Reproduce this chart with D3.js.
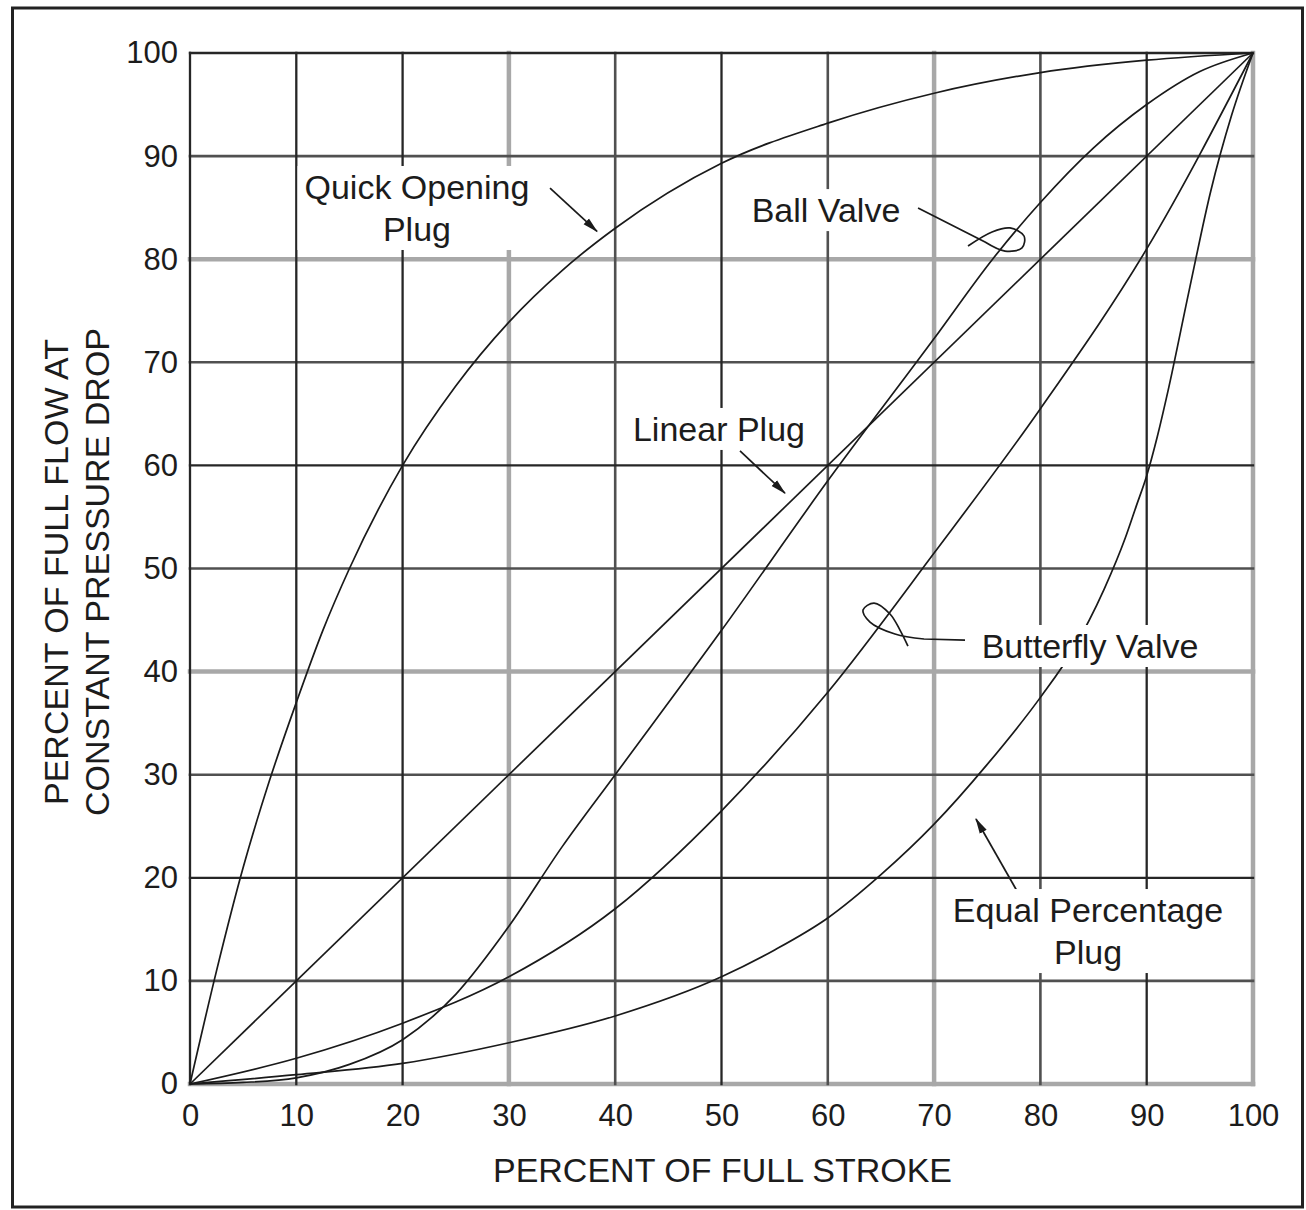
<!DOCTYPE html>
<html><head><meta charset="utf-8">
<script src="https://cdn.jsdelivr.net/npm/d3@7"></script>
<style>body{margin:0;background:#fff}svg{display:block}</style>
</head><body>
<svg id="chart" width="1306" height="1210"></svg>
<script>
// ---------- data ----------
const xTicks = [0,10,20,30,40,50,60,70,80,90,100];
const yTicks = [0,10,20,30,40,50,60,70,80,90,100];
const xTickLabels = ["0","10","20","30","40","50","60","70","80","90","100"];
const yTickLabels = ["0","10","20","30","40","50","60","70","80","90","100"];
const xTitle = "PERCENT OF FULL STROKE";
const yTitleLines = ["PERCENT OF FULL FLOW AT","CONSTANT PRESSURE DROP"];

const quickOpening = [[0,0],[2.5,11],[5,21],[7.5,29.5],[10,37],[12.5,44],[15,50],[20,60],[25,67.7],[30,73.9],[35,78.9],[40,83],[50,89.3],[60,93.2],[70,96.1],[80,98.1],[90,99.3],[100,100]];
const linearPlug = [[0,0],[100,100]];
const ballValve = [[0,0],[5,0.15],[10,0.6],[15,1.9],[20,4.3],[25,8.7],[30,15.3],[35,23],[40,30],[50,44],[60,58.5],[70,72.3],[75.5,80],[80,85.5],[85,90.8],[90,95],[95,98.2],[100,100]];
const butterflyValve = [[0,0],[10,2.5],[20,5.9],[30,10.4],[40,17],[50,26.5],[60,38],[70,51.5],[80,65.5],[90,81],[100,100]];
const equalPercentage = [[0,0],[10,0.9],[20,2.0],[30,4.0],[40,6.6],[50,10.4],[55,13],[60,16.1],[65,20.3],[70,25.2],[75,31],[80,37.5],[83,42],[86,48],[88,53],[89,56],[90,59],[91,62.8],[92,67.2],[94,77],[96,86.5],[98,94],[100,100]];
const seriesList = [quickOpening, linearPlug, ballValve, butterflyValve, equalPercentage];

// annotation text (data coordinates of first-line baseline centre)
const labelTexts = [["Quick Opening","Plug"],["Ball Valve"],["Linear Plug"],["Butterfly Valve"],["Equal Percentage","Plug"]];
const labelAnchors = [[21.35,85.84],[59.83,83.6],[49.76,62.37],[84.67,41.32],[84.48,15.71]];
const arrowLines = [[[33.87,86.9],[38.29,82.7]],[[51.74,61.4],[55.97,57.3]],[[77.8,18.72],[73.94,25.7]]];
const ballLeader = [[68.49,84.97],[74.79,81.67],[76.67,80.79],[78.27,81.09],[78.46,82.25],[77.14,83.03],[75.45,82.64],[73.19,81.28]];
const butterflyLeader = [[72.91,43.06],[69.05,43.16],[66.32,43.65],[63.97,44.81],[63.31,45.97],[64.35,46.65],[65.85,45.59],[66.79,44.03],[67.54,42.48]];

// ---------- styles ----------
const gridStyleX = ["dark","dark","dark","light","mid","dark","mid","light","mid","dark","light"];
const gridStyleY = ["light","mid","dark","mid","light","mid","dark","mid","light","mid","dark"];
const gridLook = {light:{c:"#a8a8a8",w:4.5}, mid:{c:"#505050",w:2.6}, dark:{c:"#262626",w:2.3}};
const FONT = "'Liberation Sans', Arial, Helvetica, sans-serif";
const INK = "#1c1c1c";

// ---------- chart ----------
const svg = d3.select("#chart");
const x = d3.scaleLinear().domain([0,100]).range([190,1253]);
const y = d3.scaleLinear().domain([0,100]).range([1084,53]);

svg.append("rect").attr("x",12.5).attr("y",8).attr("width",1290).attr("height",1199)
  .attr("fill","#fff").attr("stroke","#222").attr("stroke-width",3);

const grid = svg.append("g");
["light","mid","dark"].forEach(kind => {
  xTicks.forEach((t,i) => {
    if (gridStyleX[i] !== kind) return;
    grid.append("line").attr("x1",x(t)).attr("x2",x(t)).attr("y1",y(0)).attr("y2",y(100))
      .attr("stroke",gridLook[kind].c).attr("stroke-width",gridLook[kind].w).attr("stroke-linecap","square");
  });
  yTicks.forEach((t,i) => {
    if (gridStyleY[i] !== kind) return;
    grid.append("line").attr("y1",y(t)).attr("y2",y(t)).attr("x1",x(0)).attr("x2",x(100))
      .attr("stroke",gridLook[kind].c).attr("stroke-width",gridLook[kind].w).attr("stroke-linecap","square");
  });
});

// axes (labels only)
const yAxis = svg.append("g").attr("transform",`translate(${x(0)},0)`)
  .call(d3.axisLeft(y).tickValues(yTicks).tickFormat((d,i)=>yTickLabels[i]).tickSize(0).tickPadding(12));
const xAxis = svg.append("g").attr("transform",`translate(0,${y(0)})`)
  .call(d3.axisBottom(x).tickValues(xTicks).tickFormat((d,i)=>xTickLabels[i]).tickSize(0).tickPadding(20));
[xAxis,yAxis].forEach(g => {
  g.select(".domain").remove();
  g.selectAll("text").attr("font-family",FONT).attr("font-size",31).attr("fill",INK);
});

svg.append("text").attr("x",(x(0)+x(100))/2 + 1).attr("y",1182).attr("text-anchor","middle")
  .attr("font-family",FONT).attr("font-size",34).attr("fill",INK).text(xTitle);
yTitleLines.forEach((t,i) => {
  svg.append("text").attr("transform",`translate(${68 + i*41},572) rotate(-90)`).attr("text-anchor","middle")
    .attr("font-family",FONT).attr("font-size",34).attr("fill",INK).text(t);
});

// curves
const line = d3.line().x(d=>x(d[0])).y(d=>y(d[1])).curve(d3.curveMonotoneX);
svg.append("g").selectAll("path").data(seriesList).join("path")
  .attr("d",line).attr("fill","none").attr("stroke","#1a1a1a").attr("stroke-width",1.7);

// arrows
svg.append("defs").append("marker").attr("id","ah").attr("viewBox","0 0 14 8")
  .attr("refX",13).attr("refY",4).attr("markerWidth",16).attr("markerHeight",9).attr("orient","auto")
  .attr("markerUnits","userSpaceOnUse")
  .append("path").attr("d","M0,0.5 L14,4 L0,7.5 Z").attr("fill","#1a1a1a");
const straight = d3.line().x(d=>x(d[0])).y(d=>y(d[1]));
svg.append("g").selectAll("path").data(arrowLines).join("path")
  .attr("d",straight).attr("fill","none").attr("stroke","#1a1a1a").attr("stroke-width",1.7)
  .attr("marker-end","url(#ah)");

// leaders with loops
const loopLine = d3.line().x(d=>x(d[0])).y(d=>y(d[1])).curve(d3.curveCatmullRom.alpha(0.5));
[ballLeader, butterflyLeader].forEach(pts => {
  svg.append("path").attr("d", straight(pts.slice(0,2)) + loopLine(pts.slice(1)).replace(/^M[^CL]*/,""))
    .attr("fill","none").attr("stroke","#1a1a1a").attr("stroke-width",1.7);
});

// labels with white backing
const labelLayer = svg.append("g");
labelTexts.forEach((lines,i) => {
  const g = labelLayer.append("g");
  const bg = g.append("rect").attr("fill","#fff");
  const t = g.append("text").attr("font-family",FONT).attr("font-size",34).attr("fill",INK).attr("text-anchor","middle");
  lines.forEach((s,j) => {
    t.append("tspan").attr("x",x(labelAnchors[i][0])).attr("y",y(labelAnchors[i][1]) + j*42).text(s);
  });
  const b = t.node().getBBox();
  bg.attr("x",b.x-7).attr("y",b.y-2).attr("width",b.width+14).attr("height",b.height+4);
});
</script>
</body></html>
